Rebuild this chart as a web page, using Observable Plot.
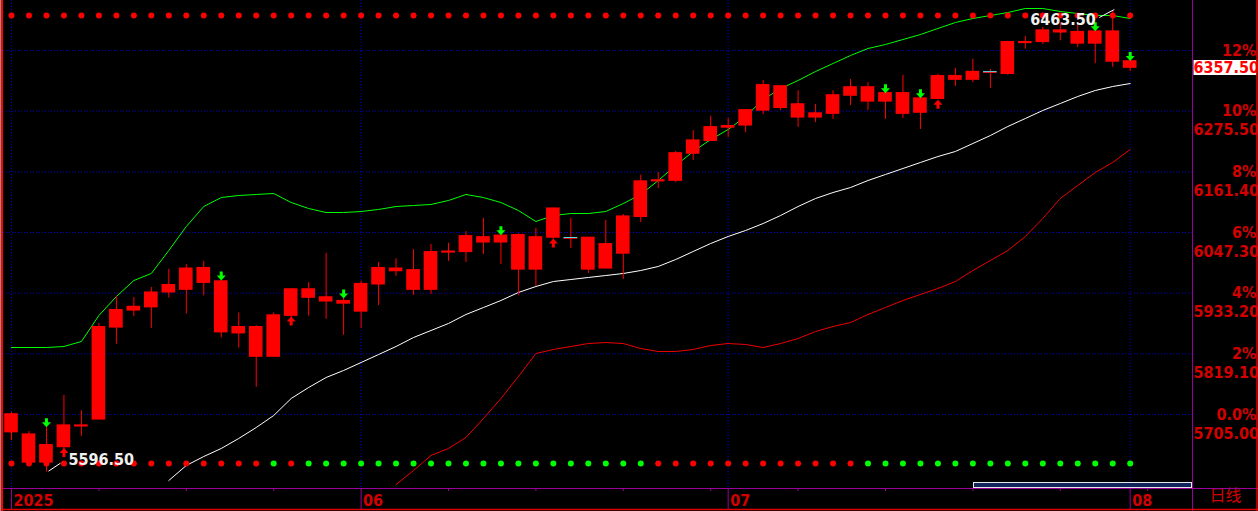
<!DOCTYPE html>
<html><head><meta charset="utf-8">
<script src="https://cdn.jsdelivr.net/npm/d3@7"></script>
<script src="https://cdn.jsdelivr.net/npm/@observablehq/plot@0.6"></script>
<style>
html,body{margin:0;padding:0;background:#000;overflow:hidden}
#chart svg{display:block}
</style></head><body><div id="chart"></div>
<script>
// ---- daily candles (index 0 = first bar shown) ----
const opens  = [5705,5667,5615,5644,5684,5696,5869,5901,5907,5935,5940,5980,5955,5858,5869,5814,5891,5940,5925,5918,5899,5950,5979,5976,5940,6010,6011,6038,6029,6042,5978,6038,6036,6037,5980,6008,6077,6144,6145,6196,6220,6245,6249,6277,6322,6288,6264,6271,6305,6320,6309,6309,6299,6299,6341,6335,6348,6346,6405,6406,6427,6424,6403,6425,6369];
const highs  = [5709,5673,5681,5741,5712,5876,5927,5925,5944,5978,5987,5993,5957,5896,5872,5896,5942,5953,6008,5923,5956,5991,5998,6015,6025,6027,6049,6074,6042,6045,6055,6093,6074,6038,6070,6081,6155,6160,6200,6239,6266,6262,6278,6333,6323,6314,6288,6314,6335,6329,6309,6343,6300,6345,6356,6373,6354,6407,6416,6433,6442,6442,6426,6463.5,6370];
const lows   = [5656,5614,5596.5,5630,5664,5695,5837,5889,5867,5924,5894,5928,5849,5830,5756,5813,5887,5890,5884,5854,5867,5910,5965,5929,5931,5993,5991,6006,5987,5929,5946,6035,6017,5970,5980,5959,6066,6130,6141,6183,6219,6226,6235,6269,6277,6245,6254,6260,6286,6277,6260,6262,6241,6297,6322,6329,6318,6343,6392,6401,6408,6395,6365,6358,6350];
const closes = [5672,5615,5647,5684,5683,5869,5901,5907,5934,5948,5979,5953,5860,5869,5814,5891,5940,5925,5918,5914,5950,5980,5975,5940,6010,6011,6040,6029,6041,5978,6038,6092,6036,5978,6025,6077,6143,6145,6196,6220,6245,6247,6277,6324,6282,6264,6271,6305,6320,6294,6294,6271,6273,6341,6335,6349,6348,6405,6404,6427,6424,6403,6425,6369,6357.5];

// ---- band lines (upper / middle / lower) ----
const upperBand = [5831.0,5831.0,5831.0,5832.9,5842.3,5891.2,5926.9,5957.0,5970.2,6013.5,6058.6,6096.2,6113.1,6116.9,6118.8,6120.7,6103.7,6092.4,6084.9,6084.9,6086.8,6090.6,6096.2,6098.1,6100.0,6107.5,6118.8,6113.1,6103.7,6088.7,6068.0,6079.3,6083.0,6083.0,6086.8,6101.8,6118.8,6145.1,6173.3,6199.7,6222.2,6241.0,6265.5,6297.5,6318.1,6333.2,6350.1,6365.2,6380.2,6393.4,6400.9,6410.3,6419.7,6431.0,6442.3,6449.8,6455.4,6461.1,6468.6,6468.6,6463.0,6459.2,6455.4,6455.4,6449.8];
const middleBand = [null,null,null,null,null,null,null,null,null,5580.9,5609.1,5626.0,5641.1,5659.9,5680.5,5703.1,5735.1,5755.8,5774.6,5787.8,5802.8,5817.8,5832.9,5849.8,5863.0,5876.2,5893.1,5906.2,5919.4,5934.5,5945.7,5955.1,5958.9,5962.7,5966.4,5970.2,5975.8,5983.4,5996.5,6011.6,6026.6,6039.8,6051.1,6064.2,6079.3,6096.2,6111.3,6122.5,6131.9,6145.1,6156.4,6167.7,6179.0,6190.2,6199.7,6214.7,6229.7,6246.7,6261.7,6276.8,6289.9,6303.1,6314.4,6321.9,6327.5];
const lowerBand = [null,null,null,null,null,null,null,null,null,null,null,null,null,null,null,null,null,null,null,null,null,null,5573.3,5599.7,5627.9,5641.1,5661.7,5697.5,5735.1,5776.5,5819.7,5827.3,5832.9,5838.5,5840.4,5838.5,5829.1,5823.5,5823.5,5827.3,5834.8,5838.5,5836.7,5831.0,5838.5,5847.9,5861.1,5870.5,5878.0,5893.1,5906.2,5919.4,5930.7,5942.0,5955.1,5975.8,5994.6,6013.5,6039.8,6073.6,6111.3,6135.7,6160.2,6179.0,6203.4];

// ---- signals ----
const bottomSignals = "rrrrrrrrrrrrrrrgrggggggggggggggggggggrrrrrrrrrrrrgggggggggggggggg";
const sellSignalIdx = [2,12,19,28,50,52,62,64];
const buySignalIdx  = [3,16,31,53];

// ---- axis ticks ----
const monthIdx = [0,20,41,64];
const monthLabels = ["2025","06","07","08"];
const weekIdx = [5,10,15,25,30,35,40,45,50,55,60,65];
const basePrice = 5705;
const pctTicks = [0,2,4,6,8,10,12];
const pctLabels = ["0.0%","2%","4%","6%","8%","10%","12%"];
const priceTickLabels = ["5705.00","5819.10","5933.20","6047.30","6161.40","6275.50"];
const periodLabel = "日线";

// ---- build tables ----
const candles = opens.map((o,i)=>({i, open:o, high:highs[i], low:lows[i], close:closes[i], sig:bottomSignals[i]}));
const bands = upperBand.map((u,i)=>({i, upper:u, middle:middleBand[i], lower:lowerBand[i]}));
const pctPrices = pctTicks.map(p => +(basePrice*(1+p/100)).toFixed(2));
const pricePrices = priceTickLabels.map(Number);

const RED="#ff0000", GREEN="#00ff00", PURPLE="#990099", GRID="#0000d0", AXRED="#d40000";
const FONT = "'DejaVu Sans Condensed','DejaVu Sans',sans-serif";

const downArrow = {draw(c){c.moveTo(-1.5,-9);c.lineTo(1.5,-9);c.lineTo(1.5,-5);c.lineTo(4.5,-5);c.lineTo(0,0);c.lineTo(-4.5,-5);c.lineTo(-1.5,-5);c.closePath();}};
const upArrow = {draw(c){c.moveTo(0,0);c.lineTo(4.5,5);c.lineTo(1.5,5);c.lineTo(1.5,9);c.lineTo(-1.5,9);c.lineTo(-1.5,5);c.lineTo(-4.5,5);c.closePath();}};
const leaderLow = {draw(c){c.moveTo(2,-1);c.lineTo(14,-9);}};
const leaderHigh = {draw(c){c.moveTo(1.6,-1.7);c.lineTo(-13.4,6.3);}};
const priceBox = {draw(c){c.rect(1,-7.5,63,15);}};

const lowIdx = d3.minIndex(lows), highIdx = d3.maxIndex(highs);
const last = candles[candles.length-1];

const plot = Plot.plot({
  width: 1258, height: 511,
  marginTop: 0, marginRight: 66, marginBottom: 23, marginLeft: 3,
  style: {background:"#000", color: AXRED, fontFamily: FONT, fontSize:"16px", fontWeight:"bold"},
  x: {type:"linear", domain:[0,64], range:[11,1129.7], label: null},
  y: {type:"linear", domain:[5580.87,6483.65], range:[480,0], label: null},
  color: {type:"identity"},
  marks: [
    Plot.ruleY(pctPrices, {stroke: GRID, strokeDasharray:"1,2"}),
    Plot.ruleX(monthIdx, {stroke: GRID, strokeDasharray:"1,2"}),
    Plot.line(bands, {x:"i", y:"upper", stroke: GREEN, strokeWidth:1, clip:true}),
    Plot.line(bands, {x:"i", y:"middle", stroke: "#ffffff", strokeWidth:1, clip:true}),
    Plot.line(bands, {x:"i", y:"lower", stroke: "#ee0000", strokeWidth:1, clip:true}),
    Plot.dot(candles, {x:"i", frameAnchor:"top", dy:15, r:3, fill: RED}),
    Plot.dot(candles, {x:"i", frameAnchor:"bottom", dy:-25, r:3, fill: d => d.sig === "g" ? GREEN : RED}),
    Plot.ruleX(candles, {x:"i", y1:"low", y2:"high", stroke: RED, strokeWidth:1}),
    Plot.rect(candles, {x1: d => d.i - 0.39, x2: d => d.i + 0.39, y1:"open", y2:"close", fill: RED, insetTop:-0.8, insetBottom:-0.8}),
    Plot.rect(candles.filter(d => d.open === d.close), {x1: d => d.i - 0.39, x2: d => d.i + 0.39, y1:"open", y2:"close", fill: "#55e0f0", insetTop:-1, insetBottom:0}),
    Plot.dot(sellSignalIdx.map(i => candles[i]), {x:"i", y:"high", symbol: downArrow, fill: GREEN, stroke:"none"}),
    Plot.dot(buySignalIdx.map(i => candles[i]), {x:"i", y: d => Math.min(d.open, d.close), symbol: upArrow, fill: RED, stroke:"none", dy:1}),
    Plot.dot([candles[lowIdx]], {x:"i", y:"low", symbol: leaderLow, fill:"none", stroke:"#ffffff", strokeWidth:1}),
    Plot.text([candles[lowIdx]], {x:"i", y:"low", text: d => d.low.toFixed(2), dx:22, dy:-12, textAnchor:"start", fill:"#f0f0f0", fontSize:16}),
    Plot.dot([candles[highIdx]], {x:"i", y:"high", symbol: leaderHigh, fill:"none", stroke:"#ffffff", strokeWidth:1}),
    Plot.text([candles[highIdx]], {x:"i", y:"high", text: d => d.high.toFixed(2), dx:-17, dy:9, textAnchor:"end", fill:"#f0f0f0", fontSize:16}),
    // right axis: percent labels and price labels
    Plot.axisY(pctPrices, {anchor:"right", label:null, tickSize:4, stroke: PURPLE, tickPadding:3, textAnchor:"end", dx:57, fill: AXRED, fontSize:16,
      tickFormat: d => pctLabels[pctPrices.indexOf(d)]}),
    Plot.axisY(pricePrices, {anchor:"right", label:null, tickSize:0, tickPadding:1, textAnchor:"start", dy:19, fill: AXRED, fontSize:16,
      tickFormat: d => priceTickLabels[pricePrices.indexOf(d)]}),
    // current price box
    Plot.dot([last], {y:"close", frameAnchor:"right", symbol: priceBox, fill:"#ffffff", stroke:"none"}),
    Plot.text([last], {y:"close", frameAnchor:"right", text: d => d.close.toFixed(2), textAnchor:"start", dx:1, fill: RED, fontSize:16}),
    // bottom axis
    Plot.axisX(weekIdx, {anchor:"bottom", label:null, tickSize:3, stroke: PURPLE, tickFormat: () => ""}),
    Plot.axisX(monthIdx, {anchor:"bottom", label:null, tickSize:21, stroke: PURPLE, tickFormat: () => ""}),
    Plot.axisX(monthIdx, {anchor:"bottom", label:null, tickSize:0, tickPadding:0, textAnchor:"start", dx:2, dy:6, fill: AXRED, fontSize:16,
      tickFormat: d => monthLabels[monthIdx.indexOf(d)]}),
    Plot.text([periodLabel], {frameAnchor:"bottom-right", text: d => d, textAnchor:"start", dx:17, dy:12, fill: AXRED, fontSize:16, fontWeight:"normal", fontFamily:"'Noto Sans CJK SC',sans-serif"})
  ]
});

document.getElementById("chart").appendChild(plot);

// ---- window chrome ----
const svg = d3.select(plot);
const chrome = svg.append("g");
chrome.append("rect").attr("x",973.5).attr("y",482.5).attr("width",218).attr("height",5).attr("fill","#12245e").attr("stroke","#e8e8e8").attr("stroke-width",1);
chrome.append("line").attr("x1",3).attr("x2",1258).attr("y1",488.5).attr("y2",488.5).attr("stroke",PURPLE);
chrome.append("line").attr("x1",1192.5).attr("x2",1192.5).attr("y1",0).attr("y2",511).attr("stroke",PURPLE);
chrome.append("line").attr("x1",0).attr("x2",1258).attr("y1",509.5).attr("y2",509.5).attr("stroke","#e00000").attr("stroke-width",1.5);
chrome.append("line").attr("x1",0.5).attr("x2",0.5).attr("y1",0).attr("y2",511).attr("stroke","#909090");
chrome.append("line").attr("x1",2).attr("x2",2).attr("y1",0).attr("y2",511).attr("stroke","#ff0000").attr("stroke-width",2);
chrome.append("line").attr("x1",1257).attr("x2",1257).attr("y1",0).attr("y2",511).attr("stroke","#e00000").attr("stroke-width",1.5);
</script>
</body></html>
